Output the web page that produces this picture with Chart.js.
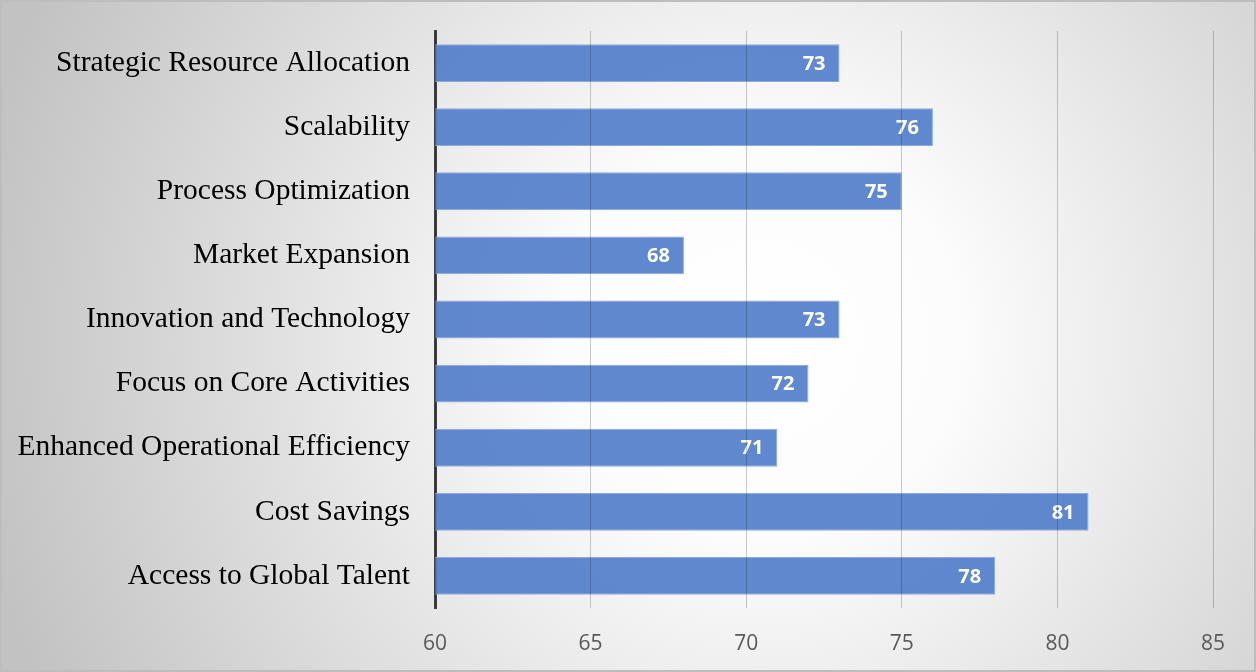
<!DOCTYPE html>
<html>
<head>
<meta charset="utf-8">
<script src="https://cdn.jsdelivr.net/npm/chart.js@4.4.0/dist/chart.umd.min.js"></script>
<style>
  html, body { margin: 0; padding: 0; background: #fff; }
  #wrap { width: 1256px; height: 672px; position: relative; }
</style>
</head>
<body>
<div id="wrap"><canvas id="benefitChart" width="1256" height="672"></canvas></div>
<script>
// chart data
const categories = [
    "Strategic Resource Allocation",
    "Scalability",
    "Process Optimization",
    "Market Expansion",
    "Innovation and Technology",
    "Focus on Core Activities",
    "Enhanced Operational Efficiency",
    "Cost Savings",
    "Access to Global Talent"
];
const scores = [73, 76, 75, 68, 73, 72, 71, 81, 78];
const axisMin = 60;
const axisMax = 85;
const axisStep = 5;

// radial grey background + frame
const backdrop = {
    id: 'backdrop',
    beforeDraw(chart) {
        const { ctx, width, height } = chart;
        ctx.save();
        const g = ctx.createRadialGradient(760, 340, 0, 760, 340, 800);
        g.addColorStop(0, '#ffffff');
        g.addColorStop(0.25, '#fcfcfc');
        g.addColorStop(1, '#c2c2c2');
        ctx.fillStyle = g;
        ctx.fillRect(0, 0, width, height);
        ctx.strokeStyle = '#bdbdbd';
        ctx.lineWidth = 2;
        ctx.strokeRect(1, 1, width - 2, height - 2);
        ctx.restore();
    }
};

// white value labels inside bar ends
const barValues = {
    id: 'barValues',
    afterDatasetsDraw(chart) {
        const { ctx } = chart;
        const meta = chart.getDatasetMeta(0);
        ctx.save();
        ctx.fillStyle = '#ffffff';
        ctx.font = 'bold 20px "Open Sans", "Liberation Sans", sans-serif';
        ctx.textAlign = 'right';
        ctx.textBaseline = 'middle';
        meta.data.forEach((bar, i) => {
            ctx.fillText(String(scores[i]), bar.x - 14, bar.y + 1);
        });
        ctx.restore();
    }
};

new Chart(document.getElementById('benefitChart'), {
    type: 'bar',
    data: {
        labels: categories,
        datasets: [{
            data: scores,
            backgroundColor: 'rgba(82, 126, 202, 0.92)',
            borderColor: '#8cacdf',
            borderWidth: 1,
            borderSkipped: 'start',
            categoryPercentage: 1,
            barPercentage: 0.59
        }]
    },
    options: {
        indexAxis: 'y',
        responsive: false,
        animation: false,
        layout: { padding: { top: 31, right: 43, left: 0, bottom: 0 } },
        plugins: {
            legend: { display: false },
            tooltip: { enabled: false }
        },
        scales: {
            x: {
                min: axisMin,
                max: axisMax,
                ticks: {
                    stepSize: axisStep,
                    padding: 23,
                    color: '#595959',
                    font: { family: '"Open Sans", sans-serif', size: 21 }
                },
                grid: {
                    z: 1,
                    drawTicks: false,
                    color: 'rgba(0,0,0,0.2)',
                    lineWidth: 1
                },
                border: { display: false },
                afterFit(scale) { scale.height = 64; }
            },
            y: {
                ticks: {
                    padding: 25,
                    color: '#000000',
                    font: { family: '"Liberation Serif", "Times New Roman", serif', size: 29.5 }
                },
                grid: { display: false, drawTicks: false },
                border: { display: true, color: '#404040', width: 3 },
                afterFit(scale) {
                    scale.width = 435;
                    scale.paddingTop = 0;
                    scale.paddingBottom = 0;
                }
            }
        }
    },
    plugins: [backdrop, barValues]
});
</script>
</body>
</html>
